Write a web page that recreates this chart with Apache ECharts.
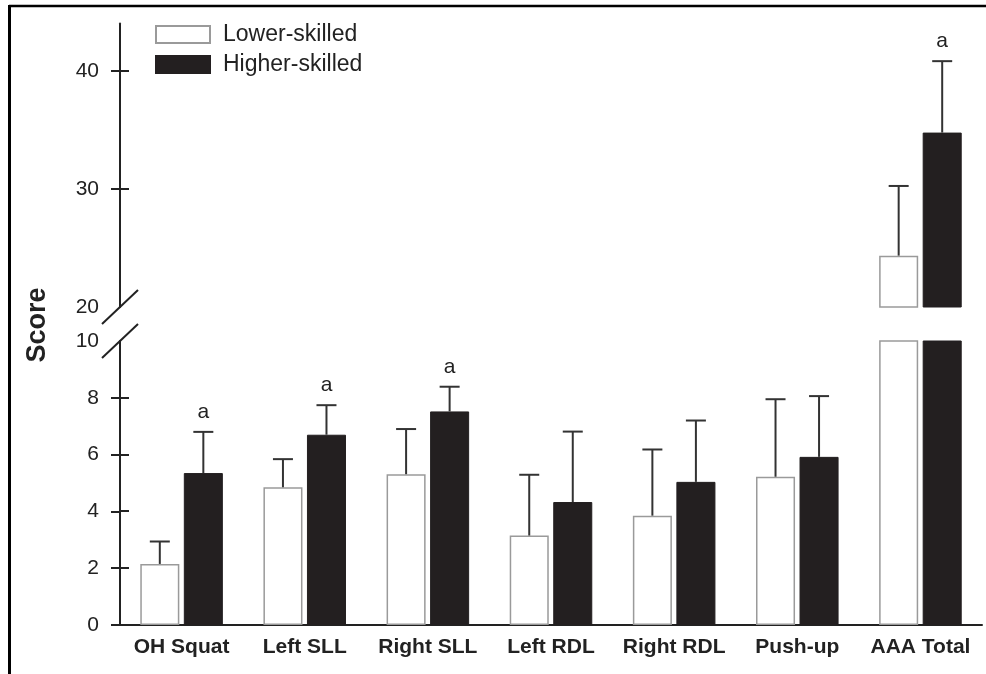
<!DOCTYPE html>
<html>
<head>
<meta charset="utf-8">
<style>
html,body{margin:0;padding:0;background:#fff;}
#chart{width:986px;height:674px;}
</style>
<script src="https://cdn.jsdelivr.net/npm/echarts@6/dist/echarts.min.js"></script>
</head>
<body>
<div id="chart"></div>
<script>
var categories = ['OH Squat', 'Left SLL', 'Right SLL', 'Left RDL', 'Right RDL', 'Push-up', 'AAA Total'];
var lowerMean = [2.15, 4.85, 5.31, 3.15, 3.85, 5.22, 24.35];
var lowerErr  = [0.79, 0.99, 1.59, 2.14, 2.33, 2.73, 5.90];
var higherMean = [5.35, 6.70, 7.52, 4.33, 5.04, 5.92, 34.77];
var higherErr  = [1.45, 1.04, 0.87, 2.48, 2.16, 2.14, 6.05];
var sigHigher = ['a', 'a', 'a', '', '', '', 'a'];
var lowTickLabels = [0, 2, 4, 6, 8, 10];
var lowTicks = [0, 2, 4, 6, 8];
var highTickLabels = [20, 30, 40];
var highTicks = [30, 40];

var FONT = 'Liberation Sans, Arial, Helvetica, sans-serif';
var INK = '#222';
var BAR_W = 0.317, BAR_GAP = 0.115;
var OFFSET = (BAR_W + BAR_W * BAR_GAP) / 2;

var chart = echarts.init(document.getElementById('chart'), null, {renderer: 'canvas'});

function errSeries(name, means, errs, sig, side, axisIdx, yMin, yMax) {
  var data = means.map(function (m, i) { return [i, m, errs[i], sig ? sig[i] : '']; });
  return {
    type: 'custom',
    name: name,
    xAxisIndex: axisIdx,
    yAxisIndex: axisIdx,
    z: 5,
    silent: true,
    data: data,
    renderItem: function (params, api) {
      var idx = api.value(0), m = api.value(1), e = api.value(2);
      var s = data[params.dataIndex][3];
      if (m > yMax || m < yMin) return null;
      var band = api.size([1, 0])[0];
      var p0 = api.coord([idx, m]);
      var p1 = api.coord([idx, m + e]);
      var x = p0[0] + side * band * OFFSET;
      var children = [
        {type: 'line', shape: {x1: x, y1: p0[1], x2: x, y2: p1[1]}, style: {stroke: '#333', lineWidth: 2}},
        {type: 'line', shape: {x1: x - 10, y1: p1[1], x2: x + 10, y2: p1[1]}, style: {stroke: '#333', lineWidth: 2}}
      ];
      if (s) {
        children.push({type: 'text', x: x, y: p1[1] - 20, style: {text: s, fill: INK, font: '21px ' + FONT, align: 'center', verticalAlign: 'middle'}});
      }
      return {type: 'group', children: children};
    }
  };
}

function barSeries(name, data, axisIdx, white) {
  return {
    type: 'bar',
    name: name,
    xAxisIndex: axisIdx,
    yAxisIndex: axisIdx,
    data: data,
    barWidth: (BAR_W * 100) + '%',
    barGap: (BAR_GAP * 100) + '%',
    clip: true,
    itemStyle: white ? {color: '#fff', borderColor: '#9a9a9a', borderWidth: 1.5, borderRadius: 0}
                     : {color: '#231f20', borderColor: '#231f20', borderWidth: 1, borderRadius: 0},
    emphasis: {disabled: true}
  };
}

function yAx(gridIndex, min, max, interval, labels, ticks) {
  return {
    type: 'value', gridIndex: gridIndex, min: min, max: max, interval: interval,
    position: 'left',
    axisLine: {show: true, lineStyle: {color: INK, width: 2}},
    axisTick: {show: true, inside: false, length: 9, customValues: ticks, lineStyle: {color: INK, width: 2}},
    axisLabel: {show: true, customValues: labels, margin: 21, color: INK, fontSize: 21, fontFamily: FONT},
    splitLine: {show: false}
  };
}

var option = {
  animation: false,
  backgroundColor: '#fff',
  legend: {
    data: ['Lower-skilled', 'Higher-skilled'],
    orient: 'vertical',
    left: 155, top: 23, padding: 0,
    icon: 'rect',
    itemWidth: 54, itemHeight: 17, itemGap: 7,
    selectedMode: false,
    textStyle: {fontSize: 23, fontFamily: FONT, color: INK, padding: [0, 0, 0, 8]}
  },
  grid: [
    {left: 120, right: 4, top: 23.6, height: 283.4},
    {left: 120, right: 4, top: 341, height: 284}
  ],
  xAxis: [
    {type: 'category', gridIndex: 0, data: categories, show: false},
    {type: 'category', gridIndex: 1, data: categories,
     axisLine: {show: true, lineStyle: {color: INK, width: 2}},
     axisTick: {show: false},
     axisLabel: {color: INK, fontSize: 21, fontWeight: 'bold', fontFamily: FONT, margin: 12, interval: 0}}
  ],
  yAxis: [
    yAx(0, 20, 44, 10, highTickLabels, highTicks),
    yAx(1, 0, 10, 2, lowTickLabels, lowTicks)
  ],
  series: [
    barSeries('Lower-skilled', lowerMean, 0, true),
    barSeries('Higher-skilled', higherMean, 0, false),
    barSeries('Lower-skilled', lowerMean, 1, true),
    barSeries('Higher-skilled', higherMean, 1, false),
    errSeries('errLowTop', lowerMean, lowerErr, null, -1, 0, 20, 44),
    errSeries('errHighTop', higherMean, higherErr, sigHigher, 1, 0, 20, 44),
    errSeries('errLowBot', lowerMean, lowerErr, null, -1, 1, 0, 10),
    errSeries('errHighBot', higherMean, higherErr, sigHigher, 1, 1, 0, 10)
  ]
};
chart.setOption(option);

// decorations: axis break marks, inner half of crossing ticks, y-axis title, frame
var xAxisPos = 120;
var yTop = chart.convertToPixel({yAxisIndex: 0}, 20);
var yBot = chart.convertToPixel({yAxisIndex: 1}, 10);
function slash(y) {
  return {type: 'line', shape: {x1: xAxisPos - 18, y1: y + 17, x2: xAxisPos + 18, y2: y - 17},
          style: {stroke: INK, lineWidth: 2}, z: 10};
}
var graphics = [slash(yTop), slash(yBot)];
function innerTicks(axisIdx, ticks) {
  ticks.forEach(function (v) {
    var y = Math.round(chart.convertToPixel({yAxisIndex: axisIdx}, v));
    graphics.push({type: 'line', shape: {x1: xAxisPos, y1: y, x2: xAxisPos + 9, y2: y},
                   style: {stroke: INK, lineWidth: 2}, z: 10});
  });
}
innerTicks(0, highTicks);
innerTicks(1, lowTicks.filter(function (v) { return v !== 0; }));
graphics.push(
  {type: 'text', x: 38, y: 325, rotation: Math.PI / 2,
   style: {text: 'Score', fill: INK, font: 'bold 27px ' + FONT, align: 'center', verticalAlign: 'middle'}},
  {type: 'line', shape: {x1: 9, y1: 6, x2: 986, y2: 6}, style: {stroke: '#000', lineWidth: 2.5}},
  {type: 'line', shape: {x1: 9.5, y1: 5, x2: 9.5, y2: 674}, style: {stroke: '#000', lineWidth: 3}}
);
chart.setOption({graphic: graphics});
</script>
</body>
</html>
